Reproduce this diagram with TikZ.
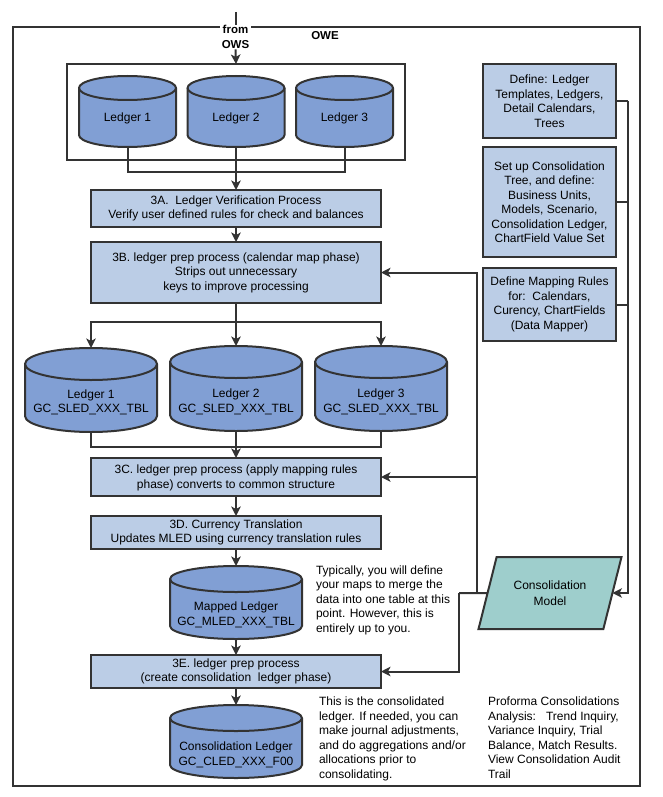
\documentclass[tikz,border=0pt]{standalone}
\usepackage{fontspec}
\setmainfont{Liberation Sans}
\usetikzlibrary{positioning,shapes.geometric,arrows.meta}
\definecolor{cline}{RGB}{51,51,51}
\definecolor{cdisk}{RGB}{129,159,212}
\definecolor{cproc}{RGB}{187,205,230}
\definecolor{cmodel}{RGB}{158,206,204}
% name, x, y, width, height, ellipse radius
\newcommand{\ledgerdisk}[6]{
  \node[minimum width=#4pt, minimum height=#5pt] (#1) at (#2,#3) {};
  \draw[fill=cdisk] ([yshift=-#6pt]#1.north west)
    arc[start angle=180, end angle=0, x radius=#4pt/2, y radius=#6pt]
    -- ([yshift=#6pt]#1.south east)
    arc[start angle=0, end angle=-180, x radius=#4pt/2, y radius=#6pt] -- cycle;
  \draw ([yshift=-#6pt]#1.north west)
    arc[start angle=180, end angle=360, x radius=#4pt/2, y radius=#6pt];
}
\begin{document}
\begin{tikzpicture}[x=1pt, y=-1pt, color=cline, line width=2pt,
    >={Stealth[length=9.5pt, width=9.5pt, inset=2.5pt]},
    every node/.style={font=\fontsize{12}{14.5}\selectfont, text=black, align=center, inner sep=0pt, outer sep=0pt},
    conn/.style={->},
    proc/.style={draw, fill=cproc, minimum width=290pt},
    setup/.style={draw, fill=cproc, minimum width=133pt},
    note/.style={align=left, anchor=north west}
  ]
  \useasboundingbox (0,0) rectangle (662,797);

  % Frame
  \node[draw, minimum width=627pt, minimum height=759pt] (frame) at (326.5,406.5) {};
  \node[font=\fontsize{11.5}{14.5}\selectfont\bfseries] (owe) at (325,36) {OWE};
  \node[fill=white, font=\fontsize{11.5}{14.5}\selectfont\bfseries, inner xsep=2pt, inner ysep=1pt] (ows) at (235.5,37) {from\\OWS};
  \coordinate (owstop) at (235.5,12);
  \draw (owstop) -- (ows.north);

  % Source ledgers
  \node[draw, minimum width=338pt, minimum height=96pt] (ledgers) at (236,112) {};
  \ledgerdisk{led1}{127.5}{111.5}{97}{71}{12}
  \ledgerdisk{led2}{236}{111.5}{97}{71}{12}
  \ledgerdisk{led3}{344.5}{111.5}{97}{71}{12}
  \node[yshift=-7pt] (led1txt) at (led1.center) {Ledger 1};
  \node[yshift=-7pt] (led2txt) at (led2.center) {Ledger 2};
  \node[yshift=-7pt] (led3txt) at (led3.center) {Ledger 3};
  \draw[conn] (ows.south) -- (ledgers.north);

  % Verification
  \node[proc, minimum height=37pt] (verify) at (236,208.5) {3A.\ \ Ledger Verification Process\\Verify user defined rules for check and balances};
  \coordinate (join1) at (236,172);
  \draw (led1.south) |- (join1) -| (led3.south);
  \draw[conn] (led2.south) -- (verify.north);

  \node[proc, minimum height=61pt] (calmap) at (236,272.5) {3B. ledger prep process (calendar map phase)\\Strips out unnecessary\\keys to improve processing};
  \draw[conn] (verify.south) -- (calmap.north);

  % Selected ledgers
  \ledgerdisk{sled1}{91}{390}{132}{84}{16}
  \ledgerdisk{sled2}{236}{388.5}{132}{85}{16}
  \ledgerdisk{sled3}{381}{388.5}{132}{85}{16}
  \node[yshift=-12.5pt] (sled1txt) at (sled1.center) {Ledger 1\\GC\_SLED\_XXX\_TBL};
  \node[yshift=-13.5pt] (sled2txt) at (sled2.center) {Ledger 2\\GC\_SLED\_XXX\_TBL};
  \node[yshift=-13.5pt] (sled3txt) at (sled3.center) {Ledger 3\\GC\_SLED\_XXX\_TBL};
  \coordinate (split) at (236,322);
  \draw[conn] (calmap.south) -- (sled2.north);
  \draw[conn] (split) -| (sled1.north);
  \draw[conn] (split) -| (sled3.north);

  \node[proc, minimum height=38pt, text depth=1pt] (mapping) at (236,477) {3C. ledger prep process (apply mapping rules\\phase) converts to common structure};
  \coordinate (join2) at (236,446.5);
  \draw (sled1.south) |- (join2) -| (sled3.south);
  \draw[conn] (sled2.south) -- (mapping.north);

  \node[proc, minimum height=33pt] (currency) at (236,532.5) {3D. Currency Translation\\Updates MLED using currency translation rules};
  \draw[conn] (mapping.south) -- (currency.north);

  % Mapped and consolidation ledgers
  \ledgerdisk{mled}{236}{602.5}{132}{73}{13}
  \node[yshift=-12.5pt] (mledtxt) at (mled.center) {Mapped Ledger\\GC\_MLED\_XXX\_TBL};
  \draw[conn] (currency.south) -- (mled.north);

  \node[proc, minimum height=33pt] (cons) at (236,671.5) {3E. ledger prep process\\(create consolidation\ \ ledger phase)};
  \draw[conn] (mled.south) -- (cons.north);

  \ledgerdisk{cled}{236}{741.5}{132}{73}{13}
  \node[yshift=-13.5pt] (cledtxt) at (cled.center) {Consolidation Ledger\\GC\_CLED\_XXX\_F00};
  \draw[conn] (cons.south) -- (cled.north);

  % Setup boxes
  \node[setup, minimum height=74pt] (define) at (549.5,101) {Define: Ledger\\Templates, Ledgers,\\Detail Calendars,\\Trees};
  \node[setup, minimum height=110pt] (tree) at (549.5,202) {Set up Consolidation\\Tree, and define:\\Business Units,\\Models, Scenario,\\Consolidation Ledger,\\ChartField Value Set};
  \node[setup, minimum height=73pt] (rules) at (549.5,304.5) {Define Mapping Rules\\for:\ \ Calendars,\\Curency, ChartFields\\(Data Mapper)};

  % Model
  \node[draw, fill=cmodel, shape=trapezium, trapezium left angle=64, trapezium right angle=116,
        trapezium stretches=true, minimum width=144pt, minimum height=72pt] (model) at (550,593) {Consolidation\\[2pt]Model};

  \coordinate (bus) at (628,593);
  \coordinate (modelout) at (459,593);
  \coordinate (feed) at (477,593);
  \draw (define.east) -- (bus |- define.east);
  \draw (tree.east) -- (bus |- tree.east);
  \draw (rules.east) -- (bus |- rules.east);
  \draw[conn] (bus |- define.east) |- (model.east);
  \draw (model.west) -- (modelout);
  \draw[conn] (modelout) |- (cons.east);
  \draw[conn] (feed) |- (calmap.east);
  \draw[conn] (feed |- mapping.east) -- (mapping.east);

  % Notes
  \node[note] (mapnote) at (316,565.5) {Typically, you will define\\your maps to merge the\\data into one table at this\\point. However, this is\\entirely up to you.};
  \node[note] (consnote) at (319,697) {This is the consolidated\\ledger. If needed, you can\\make journal adjustments,\\and do aggregations and/or\\allocations prior to\\consolidating.};
  \node[note] (pfnote) at (488,697) {Proforma Consolidations\\Analysis:\ \ \ Trend Inquiry,\\Variance Inquiry, Trial\\Balance, Match Results.\\View Consolidation Audit\\Trail};
\end{tikzpicture}
\end{document}
